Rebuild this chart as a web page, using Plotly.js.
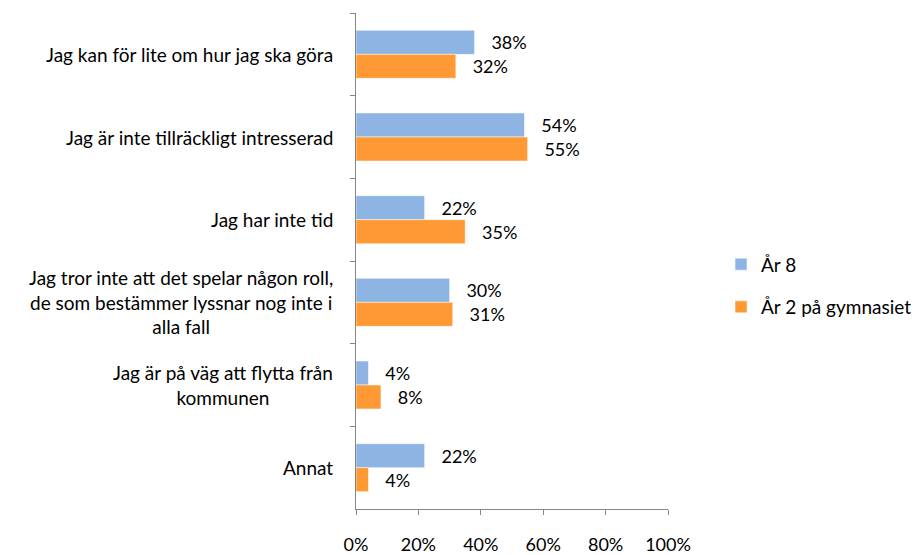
<!DOCTYPE html>
<html>
<head>
<meta charset="utf-8">
<script src="https://cdn.plot.ly/plotly-3.0.1.min.js"></script>
<style>html,body{margin:0;padding:0;background:#fff;}#chart{width:916px;height:555px;}</style>
</head>
<body>
<div id="chart"></div>
<script>
var categories = [
  "Jag kan för lite om hur jag ska göra",
  "Jag är inte tillräckligt intresserad",
  "Jag har inte tid",
  "Jag tror inte att det spelar någon roll,<br>de som bestämmer lyssnar nog inte i<br>alla fall",
  "Jag är på väg att flytta från<br>kommunen",
  "Annat"
];
var seriesNames = ["År 8", "År 2 på gymnasiet"];
var ar8 = [38, 54, 22, 30, 4, 22];
var ar2 = [32, 55, 35, 31, 8, 4];
var xTickVals = [0, 20, 40, 60, 80, 100];
var xTickText = ["0%", "20%", "40%", "60%", "80%", "100%"];

var FONT = "Lato, Open Sans, sans-serif";
var FS = 19;
var colors = ["#8EB4E3", "#FF9933"];

function mk(name, vals, color, grp) {
  return {
    type: "bar", orientation: "h", name: name,
    x: vals, y: categories,
    marker: {color: color, line: {color: "#ffffff", width: 0.5}},
    text: vals.map(function(v){ return "\u00a0\u00a0\u00a0" + v + "%"; }),
    textposition: "outside", cliponaxis: false,
    textfont: {family: FONT, size: 18, color: "#000"},
    hoverinfo: "skip", legendgroup: grp
  };
}
var data = [mk(seriesNames[0], ar8, colors[0], "a"), mk(seriesNames[1], ar2, colors[1], "b")];

var annotations = categories.map(function(c){
  return {x: 0, xref: "paper", xanchor: "right", xshift: -21, y: c, yref: "y",
          text: c, showarrow: false, align: "center",
          font: {family: FONT, size: FS, color: "#000"}};
});

var layout = {
  width: 916, height: 555,
  margin: {l: 356, r: 248, t: 13, b: 46, autoexpand: false},
  paper_bgcolor: "#fff", plot_bgcolor: "#fff",
  barmode: "group", bargap: 0.42, bargroupgap: 0,
  font: {family: FONT, size: FS, color: "#000"},
  xaxis: {range: [0, 100], tickvals: xTickVals, ticktext: xTickText,
          showgrid: false, zeroline: false, showline: true, linecolor: "#868686", linewidth: 1,
          ticks: "outside", ticklen: 5, tickcolor: "#868686", ticklabelstandoff: 14,
          tickfont: {family: FONT, size: 18, color: "#000"}, fixedrange: true},
  yaxis: {type: "category", autorange: "reversed", showticklabels: false,
          showgrid: false, zeroline: false, showline: true, linecolor: "#868686", linewidth: 1,
          ticks: "outside", ticklen: 5, tickcolor: "#868686", tickson: "boundaries", fixedrange: true},
  showlegend: true,
  legend: {x: 1.17, xanchor: "left", y: 0.45, yanchor: "middle",
           font: {family: FONT, size: FS, color: "#000"}, tracegroupgap: 15,
           traceorder: "grouped", bgcolor: "rgba(0,0,0,0)"},
  annotations: annotations
};
Plotly.newPlot("chart", data, layout, {displayModeBar: false, staticPlot: true});
</script>
</body>
</html>
